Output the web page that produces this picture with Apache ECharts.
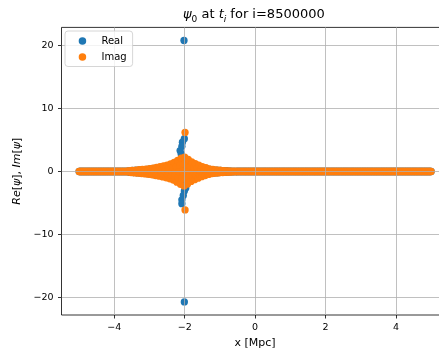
<!DOCTYPE html>
<html>
<head>
<meta charset="utf-8">
<script src="https://cdn.jsdelivr.net/npm/echarts@6/dist/echarts.min.js"></script>
<style>
  html, body { margin: 0; padding: 0; background: #fff; }
  #chart { width: 439px; height: 351px; }
</style>
</head>
<body>
<div id="chart"></div>
<script>
// Sampling grid of the snapshot: x from -5 to 5 Mpc, step 0.02 (501 samples)
const xStart = -5;
const xStep = 0.02;

// Re[psi] on the grid (oscillating, localised around x = -2)
const realValues = [
  0,0,0,0,0,0,0,0,0,0, 0,0,0,0,0,0,0,0,0,0, 0,0,0,0,0,0,0,0,0,0,
  0,0,0,0,0,0,0,0,0,0, 0,0,0,0,0,0,0,0,0,0, 0,0,0,0,0,0,0,0,0,0,
  0,0,0,0,0,0,0,0,0,0,
  0, 0.10, -0.11, -0.06, 0.06, 0, 0.16, -0.17, -0.08, 0.09,
  0, 0.20, -0.21, -0.10, 0.11, 0, 0.25, -0.26, -0.12, 0.13,
  0, 0.29, -0.30, -0.15, 0.15, 0, 0.34, -0.35, -0.17, 0.18,
  0, 0.40, -0.42, -0.20, 0.21, 0, 0.48, -0.50, -0.24, 0.25,
  0, 0.57, -0.60, -0.29, 0.30, 0, 0.67, -0.69, -0.34, 0.34,
  0, 0.77, -0.80, -0.39, 0.40, 0, 0.89, -0.93, -0.45, 0.46,
  0, 1.05, -1.07, -0.52, 0.54, 0, 1.27, -1.33, -0.65, 0.68,
  0, 1.55, -1.61, -0.78, 0.82, 0, 1.85, -1.91, -0.91, 0.92,
  0, 1.89, -1.83, -0.83, 0.80, 0, 1.55, -1.47, -0.66, 0.63,
  0, 1.24, -1.19, -0.54, 0.52, 0, 1.00, -0.97, -0.44, 0.42,
  0, 0.82, -0.77, -0.35, 0.33, 0, 0.63, -0.60, -0.27, 0.26,
  0, 0.48, -0.45, -0.20, 0.18, 0, 0.33, -0.30, -0.14, 0.13,
  0, 0.26, -0.25, -0.11, 0.11, 0, 0.21, -0.20, -0.09, 0.08,
  0, 0.16, -0.15, -0.07, 0.06, 0, 0.12, -0.11, -0.05, 0.04,
  0, 0.08, -0.08, -0.03, 0.03, 0, 0.06, -0.05, -0.02, 0.02,
  0, 0.03, -0.03,
  0,0,0,0,0,0,0,
  0,0,0,0,0,0,0,0,0,0, 0,0,0,0,0,0,0,0,0,0, 0,0,0,0,0,0,0,0,0,0,
  0,0,0,0,0,0,0,0,0,0, 0,0,0,0,0,0,0,0,0,0, 0,0,0,0,0,0,0,0,0,0,
  0,0,0,0,0,0,0,0,0,0, 0,0,0,0,0,0,0,0,0,0, 0,0,0,0,0,0,0,0,0,0,
  0,0,0,0,0,0,0,0,0,0, 0,0,0,0,0,0,0,0,0,0, 0,0,0,0,0,0,0,0,0,0,
  0,0,0,0,0,0,0,0,0,0, 0,0,0,0,0,0,0,0,0,0, 0,0,0,0,0,0,0,0,0,0,
  0,0,0,0,0,0,0,0,0,0, 0,0,0,0,0,0,0,0,0,0, 0,0,0,0,0,0,0,0,0,0,
  0,0,0,0,0,0,0,0,0,0, 0,0,0,0,0,0,0,0,0,0, 0,0,0,0,0,0,0,0,0,0,
  0,0,0,0,0,0,0,0,0,0, 0,0,0,0,0,0,0,0,0,0, 0,0,0,0,0,0,0,0,0,0,
  0,0,0,0,0,0,0,0,0,0, 0,0,0,0,0,0,0,0,0,0, 0,0,0,0,0,0,0,0,0,0,
  0
];

// Im[psi] on the same grid
const imagValues = [
  0,0,0,0,0,0,0,0,0,0, 0,0,0,0,0,0,0,0,0,0, 0,0,0,0,0,0,0,0,0,0,
  0,0,0,0,0,0,0,0,0,0, 0,0,0,0,0,0,0,0,0,0, 0,0,0,0,0,0,0,0,0,0,
  0,0,0,0,0,0,0,0,0,0,
  0.10, -0.06, 0, 0.08, -0.16, 0.18, -0.10, 0, 0.11, -0.22,
  0.23, -0.12, 0, 0.13, -0.27, 0.28, -0.15, 0, 0.16, -0.32,
  0.33, -0.17, 0, 0.19, -0.38, 0.39, -0.20, 0, 0.21, -0.44,
  0.45, -0.24, 0, 0.26, -0.53, 0.55, -0.29, 0, 0.31, -0.63,
  0.65, -0.34, 0, 0.36, -0.74, 0.77, -0.40, 0, 0.42, -0.86,
  0.88, -0.46, 0, 0.49, -0.99, 1.02, -0.53, 0, 0.56, -1.16,
  1.19, -0.62, 0, 0.65, -1.36, 1.43, -0.75, 0, 0.81, -1.69,
  1.75, -0.91, 0, 0.98, -2.04, 2.11, -1.09, 0, 1.14, -2.29,
  2.30, -1.11, 0, 1.04, -2.00, 1.91, -0.91, 0, 0.83, -1.58,
  1.52, -0.73, 0, 0.67, -1.29, 1.23, -0.59, 0, 0.55, -1.05,
  1.00, -0.48, 0, 0.44, -0.82, 0.78, -0.37, 0, 0.34, -0.64,
  0.60, -0.28, 0, 0.25, -0.46, 0.42, -0.20, 0, 0.17, -0.33,
  0.32, -0.15, 0, 0.14, -0.27, 0.26, -0.13, 0, 0.11, -0.21,
  0.20, -0.10, 0, 0.09, -0.16, 0.15, -0.07, 0, 0.06, -0.11,
  0.10, -0.05, 0, 0.04, -0.08, 0.07, -0.04, 0, 0.03, -0.05,
  0.04, -0.02, 0,
  0,0,0,0,0,0,0,
  0,0,0,0,0,0,0,0,0,0, 0,0,0,0,0,0,0,0,0,0, 0,0,0,0,0,0,0,0,0,0,
  0,0,0,0,0,0,0,0,0,0, 0,0,0,0,0,0,0,0,0,0, 0,0,0,0,0,0,0,0,0,0,
  0,0,0,0,0,0,0,0,0,0, 0,0,0,0,0,0,0,0,0,0, 0,0,0,0,0,0,0,0,0,0,
  0,0,0,0,0,0,0,0,0,0, 0,0,0,0,0,0,0,0,0,0, 0,0,0,0,0,0,0,0,0,0,
  0,0,0,0,0,0,0,0,0,0, 0,0,0,0,0,0,0,0,0,0, 0,0,0,0,0,0,0,0,0,0,
  0,0,0,0,0,0,0,0,0,0, 0,0,0,0,0,0,0,0,0,0, 0,0,0,0,0,0,0,0,0,0,
  0,0,0,0,0,0,0,0,0,0, 0,0,0,0,0,0,0,0,0,0, 0,0,0,0,0,0,0,0,0,0,
  0,0,0,0,0,0,0,0,0,0, 0,0,0,0,0,0,0,0,0,0, 0,0,0,0,0,0,0,0,0,0,
  0,0,0,0,0,0,0,0,0,0, 0,0,0,0,0,0,0,0,0,0, 0,0,0,0,0,0,0,0,0,0,
  0
];

// Sharp peak near x = -2 (sub-grid samples)
const realPeakX = [-2.02, -2.01, -2.065, -2.08, -2.13, -2.10, -1.97, -2.01, -2.04, -2.08, -2.08, -2.01];
const realPeakY = [20.8, 5.2, 4.65, 4.0, 3.33, 2.8, -2.6, -3.1, -3.8, -4.5, -5.1, -20.7];
const imagPeakX = [-1.99, -1.99];
const imagPeakY = [6.2, -6.1];

// Axis ticks
const xTicks = [-4, -2, 0, 2, 4];
const yTicks = [-20, -10, 0, 10, 20];

function gridPoints(values) {
  return values.map((v, i) => [+(xStart + i * xStep).toFixed(4), v]);
}
function pairPoints(xs, ys) {
  return xs.map((x, i) => [x, ys[i]]);
}
const minusSign = v => String(v).replace('-', '\u2212');

const FONT = 'DejaVu Sans';
const chart = echarts.init(document.getElementById('chart'), null, { renderer: 'canvas' });

chart.setOption({
  animation: false,
  backgroundColor: '#ffffff',
  title: {
    text: '{it|\u03c8}{sub|0}{n| at }{it|t}{subi|i}{n| for i=8500000}',
    left: 183,
    top: 6,
    padding: 0,
    textStyle: {
      fontFamily: FONT,
      fontSize: 13,
      fontWeight: 'normal',
      color: '#000',
      lineHeight: 18,
      rich: {
        n: { fontFamily: FONT, fontSize: 13, color: '#000', lineHeight: 18 },
        it: { fontFamily: FONT, fontSize: 13, fontStyle: 'italic', color: '#000', lineHeight: 18 },
        sub: { fontFamily: FONT, fontSize: 9, color: '#000', lineHeight: 9, verticalAlign: 'bottom' },
        subi: { fontFamily: FONT, fontSize: 9, fontStyle: 'italic', color: '#000', lineHeight: 9, verticalAlign: 'bottom' }
      }
    }
  },
  legend: {
    data: ['Real', 'Imag'],
    orient: 'vertical',
    left: 65,
    top: 31,
    icon: 'circle',
    itemWidth: 28,
    itemHeight: 7.5,
    itemGap: 6,
    padding: [5, 6, 4.5, 13.7],
    backgroundColor: 'rgba(255,255,255,0.8)',
    borderColor: '#cccccc',
    borderWidth: 0.8,
    borderRadius: 3,
    textStyle: { fontFamily: FONT, fontSize: 10, color: '#000' },
    selectedMode: false
  },
  grid: {
    left: 61.5,
    top: 27.4,
    width: 387.2,
    bottom: 36,
    outerBoundsMode: 'none',
    containLabel: false,
    show: true,
    borderColor: '#000',
    borderWidth: 0.8,
    backgroundColor: 'transparent'
  },
  xAxis: {
    type: 'value',
    min: -5.5,
    max: 5.5,
    z: 3,
    name: 'x [Mpc]',
    nameLocation: 'middle',
    nameGap: 22,
    nameTextStyle: { fontFamily: FONT, fontSize: 11, color: '#000' },
    axisLine: { show: false, onZero: false },
    axisTick: { show: true, length: 3.5, customValues: xTicks, lineStyle: { color: '#000', width: 0.8 } },
    axisLabel: { customValues: xTicks, margin: 8, fontFamily: FONT, fontSize: 9.5, color: '#000', formatter: minusSign },
    splitLine: { show: true, lineStyle: { color: '#b0b0b0', width: 0.8 } }
  },
  yAxis: {
    type: 'value',
    min: -22.78,
    max: 22.88,
    z: 3,
    name: '{it|Re}{n|[}{it|\u03c8}{n|], }{it|Im}{n|[}{it|\u03c8}{n|]}',
    nameLocation: 'middle',
    nameRotate: 90,
    nameGap: 39,
    nameTextStyle: {
      fontFamily: FONT, fontSize: 11, color: '#000',
      rich: {
        n: { fontFamily: FONT, fontSize: 11, color: '#000' },
        it: { fontFamily: FONT, fontSize: 11, fontStyle: 'italic', color: '#000' }
      }
    },
    axisLine: { show: false, onZero: false },
    axisTick: { show: true, length: 3.5, customValues: yTicks, lineStyle: { color: '#000', width: 0.8 } },
    axisLabel: { customValues: yTicks, margin: 8, fontFamily: FONT, fontSize: 9.5, color: '#000', formatter: minusSign },
    splitLine: { show: true, lineStyle: { color: '#b0b0b0', width: 0.8 } }
  },
  series: [
    {
      name: 'Real',
      type: 'scatter',
      symbol: 'circle',
      symbolSize: 7.3,
      silent: true,
      itemStyle: { color: '#1f77b4', opacity: 1 },
      data: gridPoints(realValues).concat(pairPoints(realPeakX, realPeakY))
    },
    {
      name: 'Imag',
      type: 'scatter',
      symbol: 'circle',
      symbolSize: 7.3,
      silent: true,
      itemStyle: { color: '#ff7f0e', opacity: 1 },
      data: gridPoints(imagValues).concat(pairPoints(imagPeakX, imagPeakY))
    }
  ]
});
</script>
</body>
</html>
